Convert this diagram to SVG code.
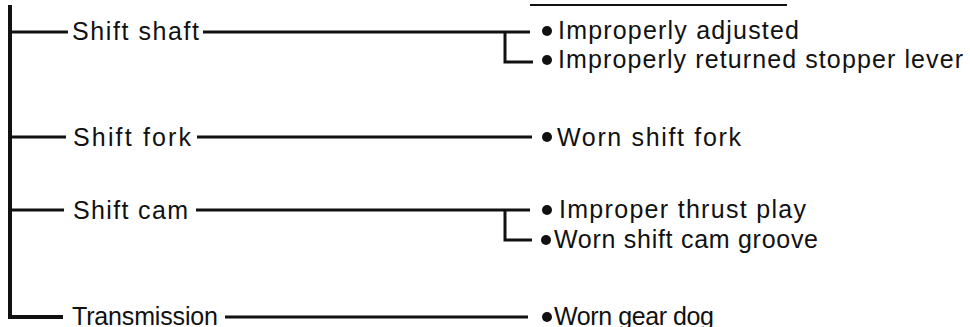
<svg xmlns="http://www.w3.org/2000/svg" width="970" height="327" viewBox="0 0 970 327">
<style>
  .t { font-family: "Liberation Sans", Arial, sans-serif; font-size: 25px; fill: #111; }
  .ln { fill: none; stroke: #111; stroke-width: 3; stroke-linecap: butt; stroke-linejoin: miter; }
  .trunk { fill: none; stroke: #111; stroke-width: 4; stroke-linejoin: miter; }
  .dot { fill: #111; }
</style>
<rect width="970" height="327" fill="#fff"/>
<g id="connectors">
  <path class="trunk" d="M10 5 V317 H63"/>
  <path class="ln" d="M10 32 H68"/>
  <path class="ln" d="M10 137 H66"/>
  <path class="ln" d="M10 210 H64"/>
  <path class="ln" d="M203 32 H530 M505 32 V62 H533"/>
  <path class="ln" d="M197 137 H532"/>
  <path class="ln" d="M196 210 H530 M505 210 V240 H532"/>
  <path class="ln" d="M225 317 H528"/>
  <path class="ln" d="M530 5 H787" style="stroke-width:2"/>
</g>
<g id="shift-shaft"><text class="t" x="72" y="40" textLength="127" lengthAdjust="spacing">Shift shaft</text></g>
<g id="shift-fork"><text class="t" x="73" y="146" textLength="118" lengthAdjust="spacing">Shift fork</text></g>
<g id="shift-cam"><text class="t" x="73" y="219" textLength="115" lengthAdjust="spacing">Shift cam</text></g>
<g id="transmission"><text class="t" x="72" y="325" textLength="146" lengthAdjust="spacing">Transmission</text></g>
<g id="improperly-adjusted"><circle class="dot" cx="547" cy="31" r="5"/><text class="t" x="558" y="39" textLength="241" lengthAdjust="spacing">Improperly adjusted</text></g>
<g id="improperly-returned"><circle class="dot" cx="547" cy="60" r="5"/><text class="t" x="558" y="68" textLength="405" lengthAdjust="spacing">Improperly returned stopper lever</text></g>
<g id="worn-shift-fork"><circle class="dot" cx="547" cy="137" r="5"/><text class="t" x="557" y="146" textLength="184" lengthAdjust="spacing">Worn shift fork</text></g>
<g id="improper-thrust"><circle class="dot" cx="547" cy="210" r="5"/><text class="t" x="559" y="218" textLength="247" lengthAdjust="spacing">Improper thrust play</text></g>
<g id="worn-cam-groove"><circle class="dot" cx="546" cy="240" r="5"/><text class="t" x="554" y="248" textLength="264" lengthAdjust="spacing">Worn shift cam groove</text></g>
<g id="worn-gear-dog"><circle class="dot" cx="547" cy="317" r="5"/><text class="t" x="554" y="325" textLength="160" lengthAdjust="spacing">Worn gear dog</text></g>
</svg>
